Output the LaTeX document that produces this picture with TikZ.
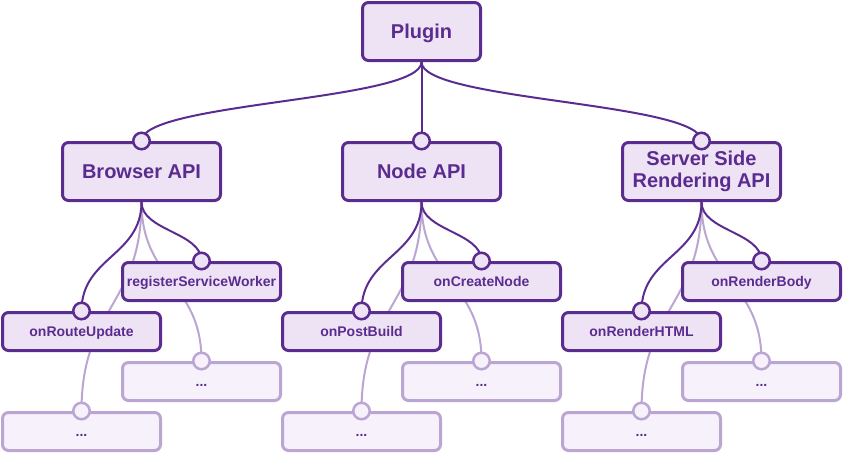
\documentclass[tikz,border=0pt]{standalone}
\usepackage{fontspec}
\setmainfont{Liberation Sans}
\usepackage{tikz}
\pgfdeclarelayer{back}
\pgfsetlayers{back,main}
\definecolor{plum}{HTML}{5B2C8F}
\definecolor{plumfill}{HTML}{EEE3F5}
\definecolor{plumfade}{HTML}{BBA5D3}
\definecolor{plumpale}{HTML}{F6F1FA}
\tikzset{
  api/.style={draw=plum, fill=plumfill, line width=3pt, rounded corners=6pt,
    minimum width=158pt, minimum height=58pt, inner sep=0pt, align=center,
    text=plum, font=\fontsize{20}{22}\selectfont\bfseries,
    text height=14.5pt, text depth=0pt},
  hook/.style={api, minimum height=38pt, font=\fontsize{14}{16}\selectfont\bfseries,
    text height=10.5pt},
  more/.style={hook, draw=plumfade, fill=plumpale},
  port/.style={circle, draw=plum, fill=plumfill, line width=2.5pt,
    minimum size=16.5pt, inner sep=0pt},
  fport/.style={port, draw=plumfade, fill=plumpale},
  link/.style={draw=plum, line width=2pt},
  flink/.style={draw=plumfade, line width=2pt},
}

\begin{document}
\begin{tikzpicture}[x=1pt,y=-1pt]
\useasboundingbox (0,0) rectangle (843,453);
%\draw [help lines,step=20] (0,0) grid (843,453);
% faded leaves
\node [more] (bMoreA) at (201.5,381.5) {...};
\node [more] (bMoreB) at (81.5,431.5) {...};
\node [more] (nMoreA) at (481.5,381.5) {...};
\node [more] (nMoreB) at (361.5,431.5) {...};
\node [more] (sMoreA) at (761.5,381.5) {...};
\node [more] (sMoreB) at (641.5,431.5) {...};
\node [fport] (pbMoreA) at (bMoreA.north) {};
\node [fport] (pbMoreB) at (bMoreB.north) {};
\node [fport] (pnMoreA) at (nMoreA.north) {};
\node [fport] (pnMoreB) at (nMoreB.north) {};
\node [fport] (psMoreA) at (sMoreA.north) {};
\node [fport] (psMoreB) at (sMoreB.north) {};
% main boxes
\node [api, minimum width=118pt] (plugin) at (421.5,31.5) {Plugin};
\node [api] (browser) at (141.5,171.5) {Browser API};
\node [api] (nodeapi) at (421.5,171.5) {Node API};
\node [api, text height=, text depth=] (ssr) at (701.5,171.5) {Server Side\\Rendering API};
\node [hook] (rsw) at (201.5,281.5) {registerServiceWorker};
\node [hook] (route) at (81.5,331.5) {onRouteUpdate};
\node [hook] (create) at (481.5,281.5) {onCreateNode};
\node [hook] (postbuild) at (361.5,331.5) {onPostBuild};
\node [hook] (body) at (761.5,281.5) {onRenderBody};
\node [hook] (html) at (641.5,331.5) {onRenderHTML};
% faded links, behind everything
\begin{pgfonlayer}{back}
\draw [flink] (browser.south) .. controls +(0,79) and +(0,-79) .. (pbMoreA.center);
\draw [flink] (browser.south) .. controls +(0,104) and +(0,-104) .. (pbMoreB.center);
\draw [flink] (nodeapi.south) .. controls +(0,79) and +(0,-79) .. (pnMoreA.center);
\draw [flink] (nodeapi.south) .. controls +(0,104) and +(0,-104) .. (pnMoreB.center);
\draw [flink] (ssr.south) .. controls +(0,79) and +(0,-79) .. (psMoreA.center);
\draw [flink] (ssr.south) .. controls +(0,104) and +(0,-104) .. (psMoreB.center);
\end{pgfonlayer}
% links
\draw [link] (plugin.south) .. controls +(0,39) and +(0,-39) .. (browser.north);
\draw [link] (plugin.south) -- (nodeapi.north);
\draw [link] (plugin.south) .. controls +(0,39) and +(0,-39) .. (ssr.north);
\draw [link] (browser.south) .. controls +(0,29) and +(0,-29) .. (rsw.north);
\draw [link] (browser.south) .. controls +(0,54) and +(0,-54) .. (route.north);
\draw [link] (nodeapi.south) .. controls +(0,29) and +(0,-29) .. (create.north);
\draw [link] (nodeapi.south) .. controls +(0,54) and +(0,-54) .. (postbuild.north);
\draw [link] (ssr.south) .. controls +(0,29) and +(0,-29) .. (body.north);
\draw [link] (ssr.south) .. controls +(0,54) and +(0,-54) .. (html.north);
% ports
\node [port] (pBrowser) at (browser.north) {};
\node [port] (pNode) at (nodeapi.north) {};
\node [port] (pSsr) at (ssr.north) {};
\node [port] (pRsw) at (rsw.north) {};
\node [port] (pRoute) at (route.north) {};
\node [port] (pCreate) at (create.north) {};
\node [port] (pPostbuild) at (postbuild.north) {};
\node [port] (pBody) at (body.north) {};
\node [port] (pHtml) at (html.north) {};
\end{tikzpicture}
\end{document}
